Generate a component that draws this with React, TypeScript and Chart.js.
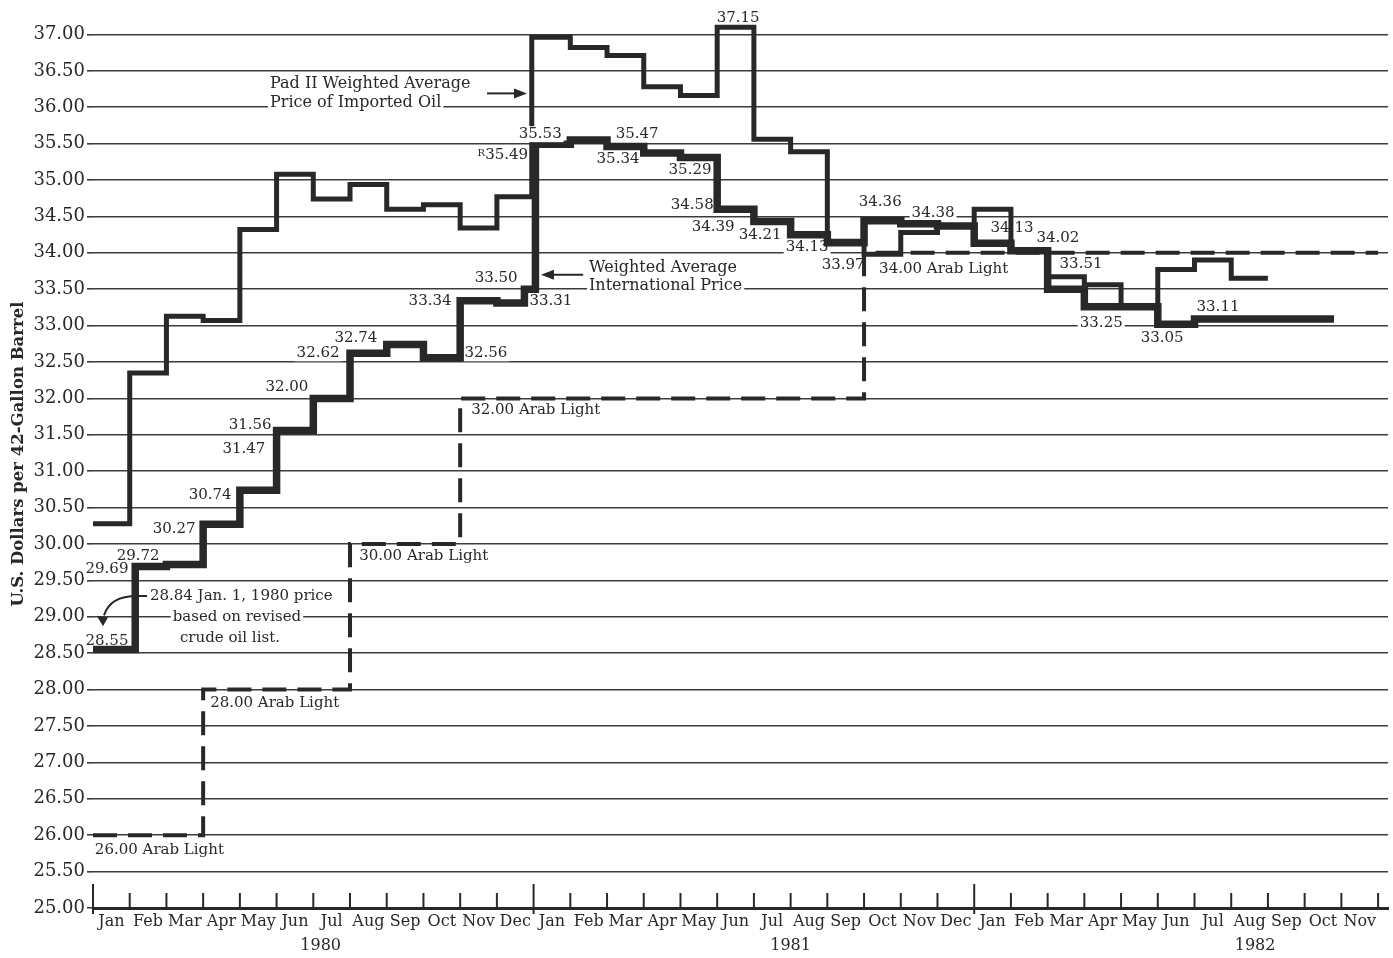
import React, { useEffect, useRef } from 'react';
import { Chart, registerables } from 'chart.js';

Chart.register(...registerables);

const FONT = "'DejaVu Serif', 'Liberation Serif', serif";
const INK = '#282828';
const GRID = '#3c3c3c';

// ---- axis categories / ticks ----
const monthLabels = [
  'Jan', 'Feb', 'Mar', 'Apr', 'May', 'Jun', 'Jul', 'Aug', 'Sep', 'Oct', 'Nov', 'Dec',
  'Jan', 'Feb', 'Mar', 'Apr', 'May', 'Jun', 'Jul', 'Aug', 'Sep', 'Oct', 'Nov', 'Dec',
  'Jan', 'Feb', 'Mar', 'Apr', 'May', 'Jun', 'Jul', 'Aug', 'Sep', 'Oct', 'Nov',
];
const yearLabels = ['1980', '1981', '1982'];
const yearLabelMonths = [6.2, 19.0, 31.65];
const yearBoundaryMonths = [0, 12, 24];
const yTickValues = [
  25, 25.5, 26, 26.5, 27, 27.5, 28, 28.5, 29, 29.5, 30, 30.5, 31,
  31.5, 32, 32.5, 33, 33.5, 34, 34.5, 35, 35.5, 36, 36.5, 37,
];

// ---- series: step start (months since Jan 1980) and price ----
const intlStart = [0, 1.15, 2, 3, 4, 5, 6, 7, 8, 9, 10, 11, 11.75, 12.05, 13, 14, 15, 16, 17, 18, 19, 20, 21, 22, 23, 24, 25, 26, 27, 28, 29, 30];
const intlPrice = [28.55, 29.69, 29.72, 30.27, 30.74, 31.56, 32.0, 32.62, 32.74, 32.56, 33.34, 33.31, 33.5, 35.49, 35.55, 35.46, 35.37, 35.31, 34.6, 34.43, 34.25, 34.14, 34.44, 34.4, 34.37, 34.13, 34.03, 33.5, 33.26, 33.26, 33.02, 33.09];
const intlEnd = 33.8;

const padStart = [0, 1, 2, 3, 4, 5, 6, 7, 8, 9, 10, 11, 11.95, 13, 14, 15, 16, 17, 18, 19, 20, 21, 22, 23, 24, 25, 26, 27, 28, 29, 30, 31];
const padPrice = [30.28, 32.35, 33.13, 33.07, 34.32, 35.08, 34.74, 34.94, 34.6, 34.66, 34.34, 34.77, 36.96, 36.82, 36.71, 36.28, 36.16, 37.1, 35.56, 35.39, 34.16, 33.98, 34.28, 34.37, 34.6, 34.04, 33.67, 33.56, 33.25, 33.77, 33.9, 33.65];
const padEnd = 32;

const arabStart = [0, 3, 7, 10, 21];
const arabPrice = [26.0, 28.0, 30.0, 32.0, 34.0];
const arabEnd = 35;

// ---- annotations (anchored in data units: month, price) ----
type Note = { t: string; x: number; y: number; a: 'left' | 'center' | 'right'; s: number; pre?: string; front?: boolean };
const notes: Note[] = [
  { t: '37.15', x: 17.57, y: 37.225, a: 'center', s: 15 },
  { t: '35.53', x: 12.18, y: 35.63, a: 'center', s: 15, front: true },
  { t: '35.49', x: 11.85, y: 35.34, a: 'right', s: 15, pre: 'R' },
  { t: '35.47', x: 14.82, y: 35.63, a: 'center', s: 15 },
  { t: '35.34', x: 14.3, y: 35.29, a: 'center', s: 15 },
  { t: '35.29', x: 16.26, y: 35.14, a: 'center', s: 15 },
  { t: '34.58', x: 16.32, y: 34.66, a: 'center', s: 15 },
  { t: '34.39', x: 16.89, y: 34.36, a: 'center', s: 15 },
  { t: '34.21', x: 18.17, y: 34.25, a: 'center', s: 15 },
  { t: '34.13', x: 19.45, y: 34.08, a: 'center', s: 15 },
  { t: '33.97', x: 20.43, y: 33.83, a: 'center', s: 15 },
  { t: '34.36', x: 21.44, y: 34.7, a: 'center', s: 15 },
  { t: '34.38', x: 22.88, y: 34.54, a: 'center', s: 15 },
  { t: '34.13', x: 25.03, y: 34.34, a: 'center', s: 15 },
  { t: '34.02', x: 26.28, y: 34.2, a: 'center', s: 15 },
  { t: '33.51', x: 26.91, y: 33.85, a: 'center', s: 15 },
  { t: '33.25', x: 27.46, y: 33.04, a: 'center', s: 15 },
  { t: '33.05', x: 29.12, y: 32.83, a: 'center', s: 15 },
  { t: '33.11', x: 30.64, y: 33.26, a: 'center', s: 15 },
  { t: '33.50', x: 10.98, y: 33.65, a: 'center', s: 15 },
  { t: '33.34', x: 9.18, y: 33.34, a: 'center', s: 15 },
  { t: '33.31', x: 12.47, y: 33.34, a: 'center', s: 15 },
  { t: '32.56', x: 10.7, y: 32.62, a: 'center', s: 15 },
  { t: '32.74', x: 7.16, y: 32.83, a: 'center', s: 15 },
  { t: '32.62', x: 6.13, y: 32.62, a: 'center', s: 15 },
  { t: '32.00', x: 5.28, y: 32.16, a: 'center', s: 15 },
  { t: '31.56', x: 4.28, y: 31.63, a: 'center', s: 15 },
  { t: '31.47', x: 4.11, y: 31.3, a: 'center', s: 15 },
  { t: '30.74', x: 3.19, y: 30.67, a: 'center', s: 15 },
  { t: '30.27', x: 2.21, y: 30.21, a: 'center', s: 15 },
  { t: '29.72', x: 1.23, y: 29.84, a: 'center', s: 15 },
  { t: '29.69', x: 0.38, y: 29.66, a: 'center', s: 15 },
  { t: '28.55', x: 0.38, y: 28.67, a: 'center', s: 15 },
  { t: '34.00 Arab Light', x: 21.41, y: 33.78, a: 'left', s: 15 },
  { t: '32.00 Arab Light', x: 10.3, y: 31.84, a: 'left', s: 15 },
  { t: '30.00 Arab Light', x: 7.25, y: 29.84, a: 'left', s: 15 },
  { t: '28.00 Arab Light', x: 3.19, y: 27.82, a: 'left', s: 15 },
  { t: '26.00 Arab Light', x: 0.05, y: 25.8, a: 'left', s: 15 },
  { t: '28.84 Jan. 1, 1980 price', x: 1.55, y: 29.286, a: 'left', s: 15 },
  { t: 'based on revised', x: 3.92, y: 28.997, a: 'center', s: 15 },
  { t: 'crude oil list.', x: 3.73, y: 28.709, a: 'center', s: 15 },
  { t: 'Weighted Average', x: 13.51, y: 33.8, a: 'left', s: 16 },
  { t: 'International Price', x: 13.51, y: 33.54, a: 'left', s: 16 },
  { t: 'Pad II Weighted Average', x: 4.82, y: 36.32, a: 'left', s: 16 },
  { t: 'Price of Imported Oil', x: 4.82, y: 36.06, a: 'left', s: 16 },
];

const straightArrows = [
  { x0: 13.35, x1: 12.2, y: 33.7 },
  { x0: 10.73, x1: 11.82, y: 36.19 },
];
const curvedArrow = { x0: 1.2, y0: 29.286, cx: 0.46, cy: 29.286, x1: 0.3, y1: 29.02, tipY: 28.87 };

function steps(start: number[], price: number[], end: number) {
  const pts = start.map((x, i) => ({ x, y: price[i] }));
  pts.push({ x: end, y: price[price.length - 1] });
  return pts;
}

function drawNote(ctx: CanvasRenderingContext2D, n: Note, px: (v: number) => number, py: (v: number) => number) {
  const x = px(n.x);
  const y = py(n.y);
  ctx.font = `${n.s}px ${FONT}`;
  const w = ctx.measureText(n.t).width;
  let preW = 0;
  if (n.pre) {
    ctx.font = `10px ${FONT}`;
    preW = ctx.measureText(n.pre).width;
  }
  const total = w + preW;
  const left = n.a === 'center' ? x - total / 2 : n.a === 'right' ? x - total : x;
  ctx.fillStyle = '#ffffff';
  ctx.fillRect(left - 2, y - 8, total + 4, 16);
  ctx.fillStyle = INK;
  ctx.textAlign = 'left';
  ctx.textBaseline = 'middle';
  if (n.pre) {
    ctx.font = `10px ${FONT}`;
    ctx.fillText(n.pre, left, y - 2);
  }
  ctx.font = `${n.s}px ${FONT}`;
  ctx.fillText(n.t, left + preW, y);
}

const overlayPlugin = {
  id: 'overlay',
  beforeDatasetsDraw(chart: any) {
    const { ctx } = chart;
    const xs = chart.scales.x;
    const ys = chart.scales.y;
    const px = (v: number) => xs.getPixelForValue(v);
    const py = (v: number) => ys.getPixelForValue(v);
    ctx.save();
    notes.filter((n) => !n.front).forEach((n) => drawNote(ctx, n, px, py));
    ctx.strokeStyle = INK;
    ctx.fillStyle = INK;
    ctx.lineWidth = 2;
    straightArrows.forEach((a) => {
      const x0 = px(a.x0);
      const x1 = px(a.x1);
      const y = py(a.y);
      const dir = Math.sign(x1 - x0);
      ctx.beginPath();
      ctx.moveTo(x0, y);
      ctx.lineTo(x1 - dir * 10, y);
      ctx.stroke();
      ctx.beginPath();
      ctx.moveTo(x1, y);
      ctx.lineTo(x1 - dir * 13, y - 5);
      ctx.lineTo(x1 - dir * 13, y + 5);
      ctx.closePath();
      ctx.fill();
    });
    const c = curvedArrow;
    ctx.beginPath();
    ctx.moveTo(px(c.x0) + 10, py(c.y0));
    ctx.lineTo(px(c.x0), py(c.y0));
    ctx.quadraticCurveTo(px(c.cx), py(c.cy), px(c.x1), py(c.y1));
    ctx.stroke();
    const tx = px(c.x1) - 1;
    const ty = py(c.tipY);
    ctx.beginPath();
    ctx.moveTo(tx, ty);
    ctx.lineTo(tx - 6, ty - 10);
    ctx.lineTo(tx + 5, ty - 9);
    ctx.closePath();
    ctx.fill();
    ctx.restore();
  },
  afterDatasetsDraw(chart: any) {
    const { ctx } = chart;
    const xs = chart.scales.x;
    const ys = chart.scales.y;
    const px = (v: number) => xs.getPixelForValue(v);
    const py = (v: number) => ys.getPixelForValue(v);
    ctx.save();
    notes.filter((n) => n.front).forEach((n) => drawNote(ctx, n, px, py));
    ctx.restore();
  },
  afterDraw(chart: any) {
    const { ctx } = chart;
    const xs = chart.scales.x;
    const ys = chart.scales.y;
    const base = ys.getPixelForValue(25);
    ctx.save();
    ctx.strokeStyle = INK;
    ctx.lineWidth = 2;
    for (let i = 0; i <= monthLabels.length; i++) {
      const x = xs.getPixelForValue(i);
      const big = yearBoundaryMonths.includes(i);
      ctx.beginPath();
      ctx.moveTo(x, base + (big ? 6 : 0));
      ctx.lineTo(x, base - (big ? 24 : 15));
      ctx.stroke();
    }
    ctx.font = `16px ${FONT}`;
    ctx.fillStyle = INK;
    ctx.textAlign = 'center';
    ctx.textBaseline = 'middle';
    yearLabels.forEach((t, i) => ctx.fillText(t, xs.getPixelForValue(yearLabelMonths[i]), base + 38));
    ctx.restore();
  },
};

export default function App() {
  const ref = useRef<HTMLCanvasElement | null>(null);

  useEffect(() => {
    if (!ref.current) return;
    const chart = new Chart(ref.current, {
      type: 'line',
      data: {
        datasets: [
          {
            label: 'Pad II Weighted Average Price of Imported Oil',
            data: steps(padStart, padPrice, padEnd),
            borderColor: INK,
            borderWidth: 5,
            stepped: true,
            pointRadius: 0,
            fill: false,
            borderJoinStyle: 'miter',
          },
          {
            label: 'Weighted Average International Price',
            data: steps(intlStart, intlPrice, intlEnd),
            borderColor: INK,
            borderWidth: 7.5,
            stepped: true,
            pointRadius: 0,
            fill: false,
            borderJoinStyle: 'miter',
          },
          {
            label: 'Arab Light',
            data: steps(arabStart, arabPrice, arabEnd),
            borderColor: INK,
            borderWidth: 4,
            borderDash: [24, 11],
            stepped: true,
            pointRadius: 0,
            fill: false,
            borderJoinStyle: 'miter',
          },
        ],
      },
      options: {
        animation: false,
        responsive: false,
        devicePixelRatio: 1,
        layout: { padding: { left: 0, right: 5, top: 0, bottom: 0 } },
        plugins: { legend: { display: false }, tooltip: { enabled: false } },
        scales: {
          x: {
            type: 'linear',
            min: 0,
            max: 35.27,
            grid: { display: false, drawTicks: false },
            border: { display: true, color: INK, width: 3 },
            afterBuildTicks: (scale: any) => {
              scale.ticks = monthLabels.map((_, i) => ({ value: i + 0.5 }));
            },
            afterFit: (scale: any) => {
              scale.height = 50;
              scale.paddingLeft = 0;
              scale.paddingRight = 0;
            },
            ticks: {
              autoSkip: false,
              maxRotation: 0,
              padding: 4,
              color: INK,
              font: { family: FONT, size: 16 },
              callback: (_v: any, i: number) => monthLabels[i],
            },
          },
          y: {
            type: 'linear',
            min: 25,
            max: 37.473,
            grid: { color: GRID, lineWidth: 1.6, tickLength: 6, drawTicks: true },
            border: { display: false },
            afterBuildTicks: (scale: any) => {
              scale.ticks = yTickValues.map((v) => ({ value: v }));
            },
            afterFit: (scale: any) => {
              scale.width = 93;
              scale.paddingTop = 0;
              scale.paddingBottom = 0;
            },
            ticks: {
              padding: 2,
              color: INK,
              font: { family: FONT, size: 18 },
              callback: (v: any) => Number(v).toFixed(2),
            },
            title: {
              display: true,
              text: 'U.S. Dollars per 42-Gallon Barrel',
              color: INK,
              font: { family: FONT, size: 16.5, weight: 'bold' },
              padding: { top: 9, bottom: 0 },
            },
          },
        },
      },
      plugins: [overlayPlugin],
    } as any);
    return () => chart.destroy();
  }, []);

  return (
    <div style={{ position: 'fixed', left: 0, top: 0, width: 1393, height: 958, background: '#ffffff' }}>
      <canvas ref={ref} width={1393} height={958} style={{ display: 'block', width: 1393, height: 958 }} />
    </div>
  );
}
